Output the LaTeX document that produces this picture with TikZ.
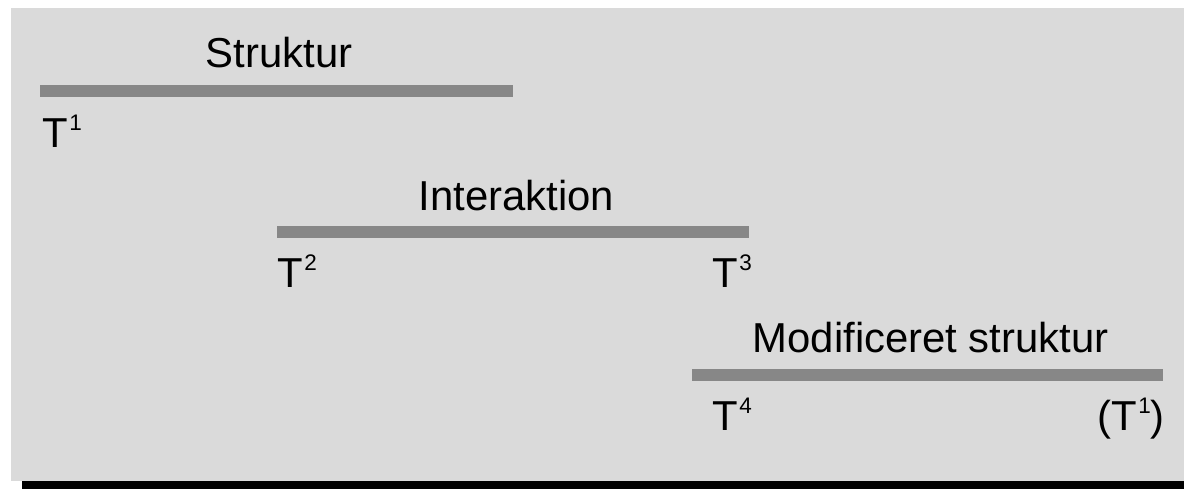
\documentclass[tikz,border=0pt]{standalone}
\usepackage{fontspec}
\setmainfont{Liberation Sans}
\usetikzlibrary{positioning}
\definecolor{panelgray}{HTML}{DADADA}
\definecolor{bargray}{HTML}{878787}
\newcommand\tsup[1]{\kern0.3pt\raisebox{5pt}{\fontsize{6.4}{7}\selectfont #1}}

\begin{document}
\begin{tikzpicture}
[x=0.01cm,y=-0.01cm,
  every node/.style={font=\fontsize{11.9}{14}\selectfont,inner sep=0pt,anchor=base west},
  bar/.style = {draw=bargray,line width=0.12cm},
  phase/.style = {text=black},
  tick/.style = {text=black}]
%canvas
\useasboundingbox (0,0) rectangle (1184,489);
\fill[panelgray] (11,8) rectangle (1184,481);
\fill[black] (22,481) rectangle (1184,489);

%bars
\coordinate (struktur-start) at (40,91);
\coordinate (struktur-end) at (513,91);
\coordinate (interaktion-start) at (277,232.5);
\coordinate (interaktion-end) at (749,232.5);
\coordinate (modif-start) at (692,375);
\coordinate (modif-end) at (1163,375);

   \draw[bar] (struktur-start) -- (struktur-end);
   \draw[bar] (interaktion-start) -- (interaktion-end);
   \draw[bar] (modif-start) -- (modif-end);

%labels
\node[phase] (struktur) at (205,68) {Struktur};
   \node[phase] (interaktion) at (418,211) {Interaktion};
   \node[phase] (modif) at (752,353) {Modificeret struktur};

\node[tick] (t1) at (42,148) {T\tsup{1}};
   \node[tick] (t2) at (277,288) {T\tsup{2}};
   \node[tick] (t3) at (712,288) {T\tsup{3}};
   \node[tick] (t4) at (712,431) {T\tsup{4}};
   \node[tick] (t1-again) at (1097,431) {(T\tsup{1})};
\end{tikzpicture}
\end{document}
